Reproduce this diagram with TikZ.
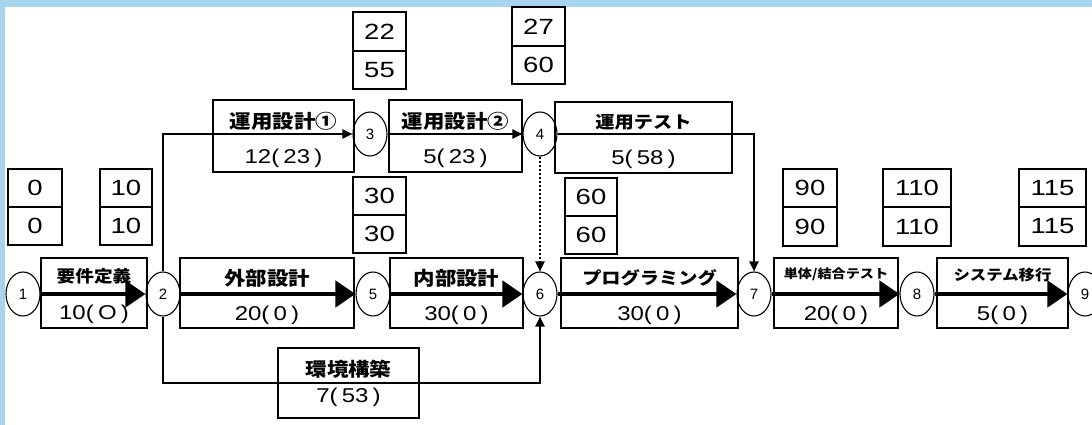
\documentclass[tikz,border=0pt]{standalone}
\usepackage{fontspec}
\setmainfont{Liberation Sans}
\newfontfamily\jp{Noto Sans CJK JP}
\usetikzlibrary{arrows.meta,shapes.geometric,positioning}
\definecolor{bord}{HTML}{A7D4EE}
\newcommand{\wide}[1]{\scalebox{1.25}[1]{#1}}
\newcommand{\wlab}[1]{\scalebox{1.13}[1]{#1}}
\newcommand{\durtxt}[2]{\scalebox{1.2}[1]{#1(\hspace{3.5pt}#2\hspace{3.5pt})}}
\begin{document}
\begin{tikzpicture}[x=1pt,y=-1pt,
  evt/.style={ellipse,draw,line width=1.1pt,minimum width=34pt,minimum height=44pt,inner sep=0pt,font=\fontsize{15}{15}\selectfont},
  act/.style={draw,line width=1.3pt,inner sep=0pt},
  lab/.style={font=\jp\bfseries\fontsize{19}{19}\selectfont,inner sep=0pt},
  dur/.style={font=\fontsize{20}{20}\selectfont,inner sep=0pt},
  cell/.style={draw,line width=1.3pt,minimum height=38pt,inner sep=0pt,outer sep=0pt,font=\fontsize{22}{22}\selectfont},
  crit/.style={line width=4.5pt,-{Triangle[length=20pt,width=26pt]}},
  flow/.style={line width=2pt,-{Triangle[length=10pt,width=9pt]}},
  dum/.style={line width=2pt,dotted,-{Triangle[length=10pt,width=9pt]}},
]
\useasboundingbox (0,0) rectangle (1092,425);
\fill[bord] (0,0) rectangle (1092,7);
\fill[bord] (0,0) rectangle (5,425);

% activity boxes
\node[act,minimum width=106pt,minimum height=70pt] (a12) at (94,293) {};
\node[act,minimum width=174pt,minimum height=70pt] (a25) at (267,293) {};
\node[act,minimum width=133pt,minimum height=70pt] (a56) at (456.5,293) {};
\node[act,minimum width=177pt,minimum height=70pt] (a67) at (649.5,293) {};
\node[act,minimum width=124pt,minimum height=70pt] (a78) at (836,293) {};
\node[act,minimum width=131pt,minimum height=70pt] (a89) at (1002.5,293) {};
\node[act,minimum width=141pt,minimum height=72pt] (a23) at (283.5,136) {};
\node[act,minimum width=133pt,minimum height=72pt] (a34) at (455.5,136) {};
\node[act,minimum width=177pt,minimum height=71pt] (a47) at (643.5,137.5) {};
\node[act,minimum width=141pt,minimum height=70pt] (a26) at (348.5,383) {};

% labels
\node[lab,font=\jp\bfseries\fontsize{16.5}{16.5}\selectfont] (t12) at (94,276) {\wlab{要件定義}};
\node[dur] (d12) at (94,314) {\durtxt{10}{O}};
\node[lab] (t25) at (267,278) {\wlab{外部設計}};
\node[dur] (d25) at (267,315) {\durtxt{20}{0}};
\node[lab] (t56) at (456.5,278) {\wlab{内部設計}};
\node[dur] (d56) at (456.5,315) {\durtxt{30}{0}};
\node[lab,font=\jp\bfseries\fontsize{17}{17}\selectfont] (t67) at (649.5,278) {\wlab{プログラミング}};
\node[dur] (d67) at (649.5,315) {\durtxt{30}{0}};
\node[lab,font=\jp\bfseries\fontsize{12.5}{12.5}\selectfont] (t78) at (836,274) {\wlab{単体/結合テスト}};
\node[dur] (d78) at (836,315) {\durtxt{20}{0}};
\node[lab,font=\jp\bfseries\fontsize{14.5}{14.5}\selectfont] (t89) at (1002.5,275) {\wlab{システム移行}};
\node[dur] (d89) at (1002.5,315) {\durtxt{5}{0}};
\node[lab] (t23) at (283.5,121.5) {\wlab{運用設計①}};
\node[dur] (d23) at (283.5,158.5) {\durtxt{12}{23}};
\node[lab] (t34) at (455.5,121.5) {\wlab{運用設計②}};
\node[dur] (d34) at (455.5,158.5) {\durtxt{5}{23}};
\node[lab,font=\jp\bfseries\fontsize{17}{17}\selectfont] (t47) at (643.5,122) {\wlab{運用テスト}};
\node[dur] (d47) at (643.5,159) {\durtxt{5}{58}};
\node[lab] (t26) at (348.5,369.5) {\wlab{環境構築}};
\node[dur] (d26) at (348.5,397) {\durtxt{7}{53}};

% events
\node[evt] (n1) at (23,294) {1};
\node[evt] (n2) at (163,294) {2};
\node[evt] (n3) at (370,134) {3};
\node[evt] (n4) at (540,134) {4};
\node[evt] (n5) at (373,294) {5};
\node[evt] (n6) at (540,294) {6};
\node[evt] (n7) at (754,294) {7};
\node[evt] (n8) at (917,294) {8};
\node[evt] (n9) at (1085,294) {9};

% time cells
\node[cell,minimum width=54pt] (i0a) at (35,188) {\wide{0}};
\node[cell,minimum width=54pt,below=0pt of i0a] (i0b) {\wide{0}};
\node[cell,minimum width=52pt] (i1a) at (126,188) {\wide{10}};
\node[cell,minimum width=52pt,below=0pt of i1a] (i1b) {\wide{10}};
\node[cell,minimum width=53pt,minimum height=39pt] (i2a) at (379.5,31.5) {\wide{22}};
\node[cell,minimum width=53pt,below=0pt of i2a] (i2b) {\wide{55}};
\node[cell,minimum width=53pt,minimum height=39pt] (i3a) at (538.5,26.5) {\wide{27}};
\node[cell,minimum width=53pt,below=0pt of i3a] (i3b) {\wide{60}};
\node[cell,minimum width=53pt] (i4a) at (379.5,196) {\wide{30}};
\node[cell,minimum width=53pt,below=0pt of i4a] (i4b) {\wide{30}};
\node[cell,minimum width=52pt] (i5a) at (591,197) {\wide{60}};
\node[cell,minimum width=52pt,below=0pt of i5a] (i5b) {\wide{60}};
\node[cell,minimum width=54pt] (i6a) at (810,188) {\wide{90}};
\node[cell,minimum width=54pt,minimum height=39pt,below=0pt of i6a] (i6b) {\wide{90}};
\node[cell,minimum width=68pt] (i7a) at (917,188) {\wide{110}};
\node[cell,minimum width=68pt,minimum height=39pt,below=0pt of i7a] (i7b) {\wide{110}};
\node[cell,minimum width=67pt] (i8a) at (1052.5,188) {\wide{115}};
\node[cell,minimum width=67pt,minimum height=39pt,below=0pt of i8a] (i8b) {\wide{115}};

% connectors
\draw[crit] (n1) -- (n2);
\draw[crit] (n2) -- (n5);
\draw[crit] (n5) -- (n6);
\draw[crit] (n6) -- (n7);
\draw[crit] (n7) -- (n8);
\draw[crit] (n8) -- (n9);
\draw[flow] (n2.north) |- (n3.west);
\draw[flow] (n3) -- (n4);
\draw[flow] (n4.east) -| (n7.north);
\draw[flow] (n2.south) |- (a26.center) -| (n6.south);
\draw[dum] (n4.south) -- (n6.north);
\end{tikzpicture}
\end{document}
